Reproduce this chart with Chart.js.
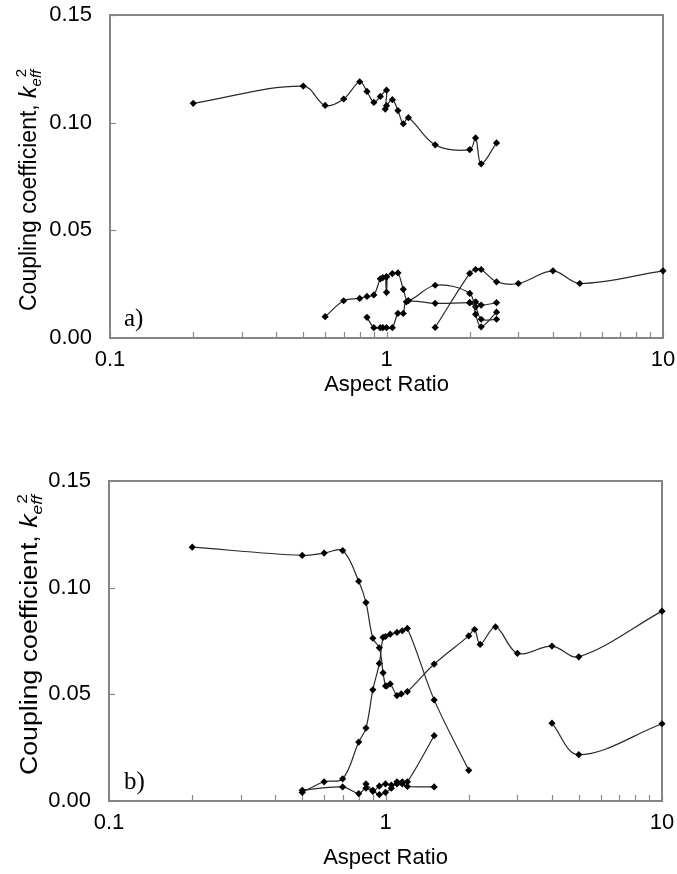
<!DOCTYPE html>
<html>
<head>
<meta charset="utf-8">
<script src="https://cdn.jsdelivr.net/npm/chart.js@4.4.1/dist/chart.umd.min.js"></script>
<style>
  html, body { margin: 0; padding: 0; background: #fff; }
  .box { width: 677px; height: 437px; position: relative; }
</style>
</head>
<body>
<div class="box"><canvas id="chartA" width="677" height="437"></canvas></div>
<div class="box"><canvas id="chartB" width="677" height="437"></canvas></div>
<script>
// ---- data ----
// a) upper panel
const a1X = [0.2, 0.5, 0.6, 0.7, 0.8, 0.85, 0.9, 0.95, 1.0, 0.99, 1.0, 1.05, 1.1, 1.15, 1.2, 1.5, 2.0, 2.1, 2.2, 2.5];
const a1Y = [0.109, 0.117, 0.108, 0.111, 0.119, 0.1145, 0.1094, 0.1122, 0.1151, 0.1063, 0.1079, 0.1107, 0.1056, 0.0995, 0.1023, 0.0897, 0.0875, 0.0929, 0.0809, 0.0906];

const a2X = [0.6, 0.7, 0.8, 0.85, 0.9, 0.95, 0.97, 1.0, 1.0, 1.0, 1.05, 1.1, 1.15, 1.2, 1.5, 2.0, 2.1, 2.2, 2.5];
const a2Y = [0.0099, 0.0173, 0.0184, 0.0193, 0.0200, 0.0275, 0.0280, 0.0284, 0.0212, 0.0284, 0.0299, 0.0302, 0.0226, 0.0174, 0.0245, 0.0207, 0.0110, 0.0052, 0.0120];

const a3X = [0.85, 0.9, 0.95, 0.97, 1.0, 1.05, 1.1, 1.15, 1.18, 1.5, 2.0, 2.1, 2.2, 2.5];
const a3Y = [0.0096, 0.0048, 0.0048, 0.0048, 0.0048, 0.0048, 0.0114, 0.0114, 0.0168, 0.0161, 0.0164, 0.0168, 0.0153, 0.0164];

const a4X = [2.0, 2.1, 2.2, 2.5];
const a4Y = [0.0164, 0.0145, 0.0087, 0.0087];

const a5X = [1.5, 2.0, 2.1, 2.2, 2.5, 3.0, 4.0, 5.0, 10];
const a5Y = [0.0049, 0.0300, 0.0318, 0.0318, 0.0261, 0.0253, 0.0312, 0.0253, 0.0312];

// b) lower panel
const b1X = [0.2, 0.5, 0.6, 0.7, 0.8, 0.85, 0.9, 0.95, 0.98, 1.0, 1.01, 1.04, 1.1, 1.14, 1.2, 1.5, 2.0, 2.1, 2.2, 2.5, 3.0, 4.0, 5.0, 10];
const b1Y = [0.119, 0.1151, 0.1162, 0.1174, 0.103, 0.093, 0.0763, 0.0718, 0.0601, 0.0539, 0.0539, 0.0549, 0.0494, 0.0502, 0.0513, 0.0642, 0.0774, 0.0804, 0.0734, 0.0816, 0.0692, 0.0726, 0.0676, 0.089];

const b2X = [0.5, 0.6, 0.7, 0.8, 0.85, 0.9, 0.95, 0.98, 1.0, 1.04, 1.1, 1.15, 1.2, 1.5, 2.0];
const b2Y = [0.0040, 0.0090, 0.0104, 0.0276, 0.0342, 0.0521, 0.0645, 0.0767, 0.0771, 0.0782, 0.0790, 0.0798, 0.0809, 0.0474, 0.0144];

const b3X = [0.5, 0.7, 0.8, 0.85, 0.9, 0.95, 1.0, 1.05, 1.1, 1.15, 1.2, 1.5];
const b3Y = [0.0050, 0.0066, 0.0035, 0.0060, 0.0045, 0.0070, 0.0080, 0.0075, 0.0080, 0.0080, 0.0068, 0.0066];

const b4X = [0.85, 0.9, 0.95, 1.0, 1.05, 1.1, 1.15, 1.2, 1.5];
const b4Y = [0.0080, 0.0050, 0.0030, 0.0040, 0.0060, 0.0090, 0.0090, 0.0090, 0.0306];

const b5X = [4, 5, 10];
const b5Y = [0.0365, 0.0217, 0.0362];

// axis ticks
const xTickValues = [0.1, 0.2, 0.3, 0.4, 0.5, 0.6, 0.7, 0.8, 0.9, 1, 2, 3, 4, 5, 6, 7, 8, 9, 10];
const xTickLabels = { 0.1: "0.1", 1: "1", 10: "10" };
const yTickValues = [0, 0.05, 0.1, 0.15];

const FONT = "'Liberation Sans', Arial, sans-serif";

function pts(xs, ys) {
  return xs.map((x, i) => ({ x: x, y: ys[i] }));
}

function series(xs, ys) {
  return {
    data: pts(xs, ys),
    showLine: true,
    borderColor: "#2a2a2a",
    borderWidth: 1.2,
    tension: 0.35,
    pointStyle: "rectRot",
    pointRadius: 3.6,
    pointBackgroundColor: "#000",
    pointBorderColor: "#000",
    pointBorderWidth: 0,
    clip: false,
  };
}

// frame, inside tick marks and axis titles
const framePlugin = {
  id: "frame",
  beforeDatasetsDraw(chart, args, opts) {
    const c = chart.ctx;
    const a = chart.chartArea;
    const xs = chart.scales.x;
    const ys = chart.scales.y;
    c.save();
    c.strokeStyle = "#8a8a8a";
    c.lineWidth = 1.2;
    xTickValues.forEach((v) => {
      const px = Math.round(xs.getPixelForValue(v)) + 0.5;
      c.beginPath();
      c.moveTo(px, a.bottom);
      c.lineTo(px, a.bottom - 6);
      c.stroke();
    });
    yTickValues.forEach((v) => {
      const py = Math.round(ys.getPixelForValue(v)) + 0.5;
      c.beginPath();
      c.moveTo(a.left, py);
      c.lineTo(a.left + 6, py);
      c.stroke();
    });
    c.strokeStyle = "#858585";
    c.lineWidth = 2;
    c.strokeRect(a.left, a.top, a.right - a.left, a.bottom - a.top);

    // x title
    c.fillStyle = "#000";
    c.font = "22px " + FONT;
    c.textAlign = "center";
    c.textBaseline = "middle";
    c.fillText("Aspect Ratio", (a.left + a.right) / 2, opts.xTitleY);

    // panel letter
    c.textAlign = "left";
    c.textBaseline = "alphabetic";
    c.font = "25px 'Liberation Serif', 'Times New Roman', serif";
    c.fillText(opts.letter, opts.letterX, opts.letterY);

    // y title, rotated, with italic k and sub/superscript
    const s = opts.yTitleSize;
    c.translate(opts.yTitleX, opts.yTitleStart);
    c.rotate(-Math.PI / 2);
    c.scale(opts.yTitleStretch, 1);
    c.textAlign = "left";
    c.textBaseline = "alphabetic";
    let x = 0;
    c.font = s + "px " + FONT;
    const main = "Coupling coefficient, ";
    c.fillText(main, x, 0);
    x += c.measureText(main).width;
    c.font = "italic " + s + "px " + FONT;
    c.fillText("k", x, 0);
    x += c.measureText("k").width;
    const small = Math.round(s * 0.65);
    c.font = "italic " + small + "px " + FONT;
    c.fillText("eff", x, s * 0.22);
    const w = c.measureText("eff").width;
    c.font = small + "px " + FONT;
    c.fillText("2", x + w * 0.55, -s * 0.45);
    c.restore();
  },
};

function makeChart(id, datasets, cfg) {
  const H = 437;
  return new Chart(document.getElementById(id), {
    type: "scatter",
    data: { datasets: datasets },
    plugins: [framePlugin],
    options: {
      responsive: false,
      animation: false,
      devicePixelRatio: 1,
      layout: { padding: { top: cfg.top, right: 677 - cfg.right, left: 0, bottom: 0 } },
      plugins: {
        legend: { display: false },
        tooltip: { enabled: false },
        frame: cfg,
      },
      scales: {
        x: {
          type: "logarithmic",
          min: 0.1,
          max: 10,
          grid: { display: false, drawTicks: false },
          border: { display: false },
          afterBuildTicks: (sc) => {
            sc.ticks = xTickValues.map((v) => ({ value: v }));
          },
          afterFit: (sc) => {
            sc.height = H - cfg.bottom;
            sc.paddingLeft = 0;
            sc.paddingRight = 0;
          },
          ticks: {
            autoSkip: false,
            maxRotation: 0,
            padding: cfg.xLabelPad,
            color: "#000",
            font: { family: FONT, size: 22 },
            callback: (v) => xTickLabels[v] || "",
          },
        },
        y: {
          min: 0,
          max: 0.15,
          grid: { display: false, drawTicks: false },
          border: { display: false },
          afterBuildTicks: (sc) => {
            sc.ticks = yTickValues.map((v) => ({ value: v }));
          },
          afterFit: (sc) => {
            sc.width = cfg.left;
            sc.paddingTop = 0;
            sc.paddingBottom = 0;
          },
          ticks: {
            padding: 18,
            color: "#000",
            font: { family: FONT, size: 22 },
            callback: (v) => v.toFixed(2),
          },
        },
      },
    },
  });
}

makeChart("chartA",
  [series(a1X, a1Y), series(a2X, a2Y), series(a3X, a3Y), series(a4X, a4Y), series(a5X, a5Y)],
  { top: 15, bottom: 338, left: 110, right: 663, xLabelPad: 9, xTitleY: 385,
    letter: "a)", letterX: 124, letterY: 326,
    yTitleX: 36, yTitleStart: 311, yTitleSize: 23, yTitleStretch: 1 });

makeChart("chartB",
  [series(b1X, b1Y), series(b2X, b2Y), series(b3X, b3Y), series(b4X, b4Y), series(b5X, b5Y)],
  { top: 44, bottom: 364, left: 109, right: 662, xLabelPad: 9, xTitleY: 421,
    letter: "b)", letterX: 124, letterY: 352,
    yTitleX: 37, yTitleStart: 338, yTitleSize: 23, yTitleStretch: 1.16 });
</script>
</body>
</html>
